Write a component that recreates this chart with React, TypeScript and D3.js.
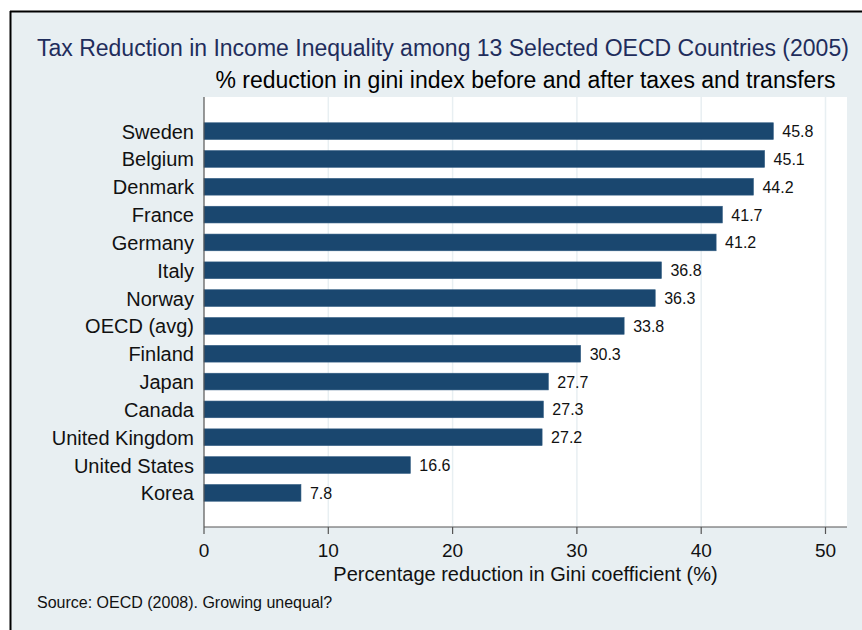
import React from "react";
import * as d3 from "d3";

const countries = [
  "Sweden", "Belgium", "Denmark", "France", "Germany", "Italy", "Norway",
  "OECD (avg)", "Finland", "Japan", "Canada", "United Kingdom", "United States", "Korea",
];
const values = [45.8, 45.1, 44.2, 41.7, 41.2, 36.8, 36.3, 33.8, 30.3, 27.7, 27.3, 27.2, 16.6, 7.8];
const xTicks = [0, 10, 20, 30, 40, 50];

const titleText = "Tax Reduction in Income Inequality among 13 Selected OECD Countries (2005)";
const subtitleText = "% reduction in gini index before and after taxes and transfers";
const xTitle = "Percentage reduction in Gini coefficient (%)";
const sourceText = "Source: OECD (2008). Growing unequal?";

const W = 862, H = 630;
const plot = { left: 204, right: 847, top: 97, bottom: 527 };
const FONT = "'Liberation Sans', Arial, Helvetica, sans-serif";
const BAR = "#1a476f";
const BG = "#e8eff2";

export default function App() {
  const x = d3.scaleLinear().domain([0, 50]).range([plot.left, 825.5]);
  const y = d3.scaleBand<string>().domain(countries).range([plot.top, plot.bottom])
    .paddingInner(0.4).paddingOuter(0.926);
  const bw = y.bandwidth();
  return (
    <svg width={W} height={H} style={{ position: "fixed", left: 0, top: 0 }} fontFamily={FONT}>
      <rect x={0} y={0} width={W} height={H} fill="#fff" />
      <rect x={10} y={11} width={W - 10} height={H - 11} fill={BG} />
      <line x1={10} x2={W} y1={11.5} y2={11.5} stroke="#000" strokeWidth={2} />
      <line x1={10.5} x2={10.5} y1={11} y2={H} stroke="#000" strokeWidth={2} />

      <text x={37} y={56} fontSize={23} fill="#1f2d5c">{titleText}</text>
      <text x={(plot.left + plot.right) / 2} y={88} fontSize={23} fill="#000" textAnchor="middle">{subtitleText}</text>

      <rect x={plot.left} y={plot.top} width={plot.right - plot.left} height={plot.bottom - plot.top} fill="#fff" />
      {xTicks.filter((t) => t > 0).map((t) => (
        <line key={"g" + t} x1={x(t)} x2={x(t)} y1={plot.top} y2={plot.bottom} stroke={BG} strokeWidth={1.5} />
      ))}

      {countries.map((c, i) => (
        <g key={c}>
          <rect x={x(0)} y={y(c)!} width={x(values[i]) - x(0)} height={bw} fill={BAR} stroke="#2f5a80" strokeWidth={0.6} />
          <text x={x(values[i]) + 9} y={y(c)! + bw / 2 + 6} fontSize={16} fill="#111">{values[i].toFixed(1)}</text>
          <text x={194} y={y(c)! + bw / 2 + 7.5} fontSize={20} fill="#111" textAnchor="end">{c}</text>
        </g>
      ))}

      <line x1={plot.left} x2={plot.left} y1={plot.top} y2={plot.bottom} stroke="#555" strokeWidth={1.2} />
      <line x1={plot.left} x2={plot.right} y1={plot.bottom} y2={plot.bottom} stroke="#555" strokeWidth={1.2} />
      {xTicks.map((t) => (
        <g key={"t" + t}>
          <line x1={x(t)} x2={x(t)} y1={plot.bottom} y2={plot.bottom + 7} stroke="#555" strokeWidth={1.2} />
          <text x={x(t)} y={557} fontSize={19} textAnchor="middle" fill="#111">{t}</text>
        </g>
      ))}
      <text x={(plot.left + plot.right) / 2} y={581} fontSize={20} textAnchor="middle" fill="#111">{xTitle}</text>
      <text x={37} y={608} fontSize={16} fill="#111">{sourceText}</text>
    </svg>
  );
}
